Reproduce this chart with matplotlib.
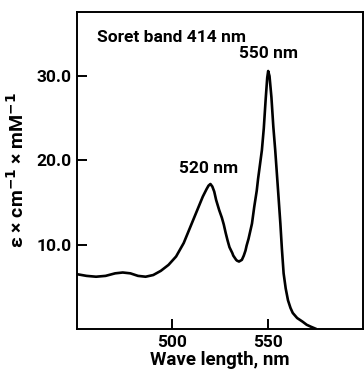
import matplotlib.pyplot as plt

# absorption spectrum (nm, epsilon mM^-1 cm^-1)
wavelength = [450, 455, 460, 465, 470, 474, 478, 482, 486, 490, 494, 498,
              502, 506, 510, 512, 514, 516, 518, 519, 520, 521, 522, 523,
              524.6, 526, 527, 528, 529, 530, 531.5, 532, 533.5, 534, 535,
              536.5, 537.5, 538.4, 539, 540, 541.8, 543, 544.3, 545, 546,
              547, 548, 549, 549.8, 550.3, 551, 552, 553, 554, 555, 555.5,
              556.7, 557.5, 558.4, 559.5, 560.7, 562, 563.2, 565.5, 568.4,
              570.5, 572.7, 575]
epsilon = [6.5, 6.3, 6.2, 6.3, 6.6, 6.7, 6.6, 6.3, 6.2, 6.4, 6.9, 7.6,
           8.6, 10.2, 12.4, 13.5, 14.6, 15.7, 16.6, 17.0, 17.2, 16.9, 16.3, 15.3,
           14.1, 13.2, 12.4, 11.4, 10.5, 9.7, 9.0, 8.7, 8.2, 8.1, 8.0,
           8.2, 8.7, 9.3, 9.9, 10.7, 12.5, 14.5, 16.4, 17.8, 19.5,
           21.2, 23.8, 27.3, 29.8, 30.6, 30.0, 27.5, 24.0, 21.2, 18.0, 16.4,
           12.5, 9.5, 6.6, 4.8, 3.4, 2.5, 1.9, 1.3, 0.86,
           0.5, 0.27, 0.05]

xticks = [500, 550]
yticks = [10, 20, 30]
ytick_labels = ["10.0", "20.0", "30.0"]

plt.rcParams['font.family'] = ['Roboto', 'DejaVu Sans']
plt.rcParams['font.weight'] = 'bold'

fig = plt.figure(figsize=(3.64, 3.75), dpi=100)
ax = fig.add_axes([0.2115, 0.1227, 0.7855, 0.8453])

ax.plot(wavelength, epsilon, color="black", lw=1.9)

ax.set_xlim(450, 600)
ax.set_ylim(0, 37.6)
ax.set_xticks(xticks)
ax.set_yticks(yticks)
ax.set_yticklabels(ytick_labels)
ax.tick_params(direction="in", length=7, width=1.4, labelsize=12.5, pad=4)
for s in ax.spines.values():
    s.set_linewidth(1.4)

ax.text(0.07, 0.92, "Soret band 414 nm", transform=ax.transAxes,
        fontsize=12.5, fontweight="bold", va="center")
ax.text(550.5, 31.8, "550 nm", fontsize=12.5, fontweight="bold", ha="center", va="bottom")
ax.text(519, 18.2, "520 nm", fontsize=12.5, fontweight="bold", ha="center", va="bottom")

ax.set_xlabel("Wave length, nm", fontsize=13.5, fontweight="bold", labelpad=1)
ax.set_ylabel(r"ε × cm$^{\mathbf{-1}}$ × mM$^{\mathbf{-1}}$", fontsize=14,
              fontweight="bold", labelpad=6)

fig.savefig("out.png", dpi=100)
